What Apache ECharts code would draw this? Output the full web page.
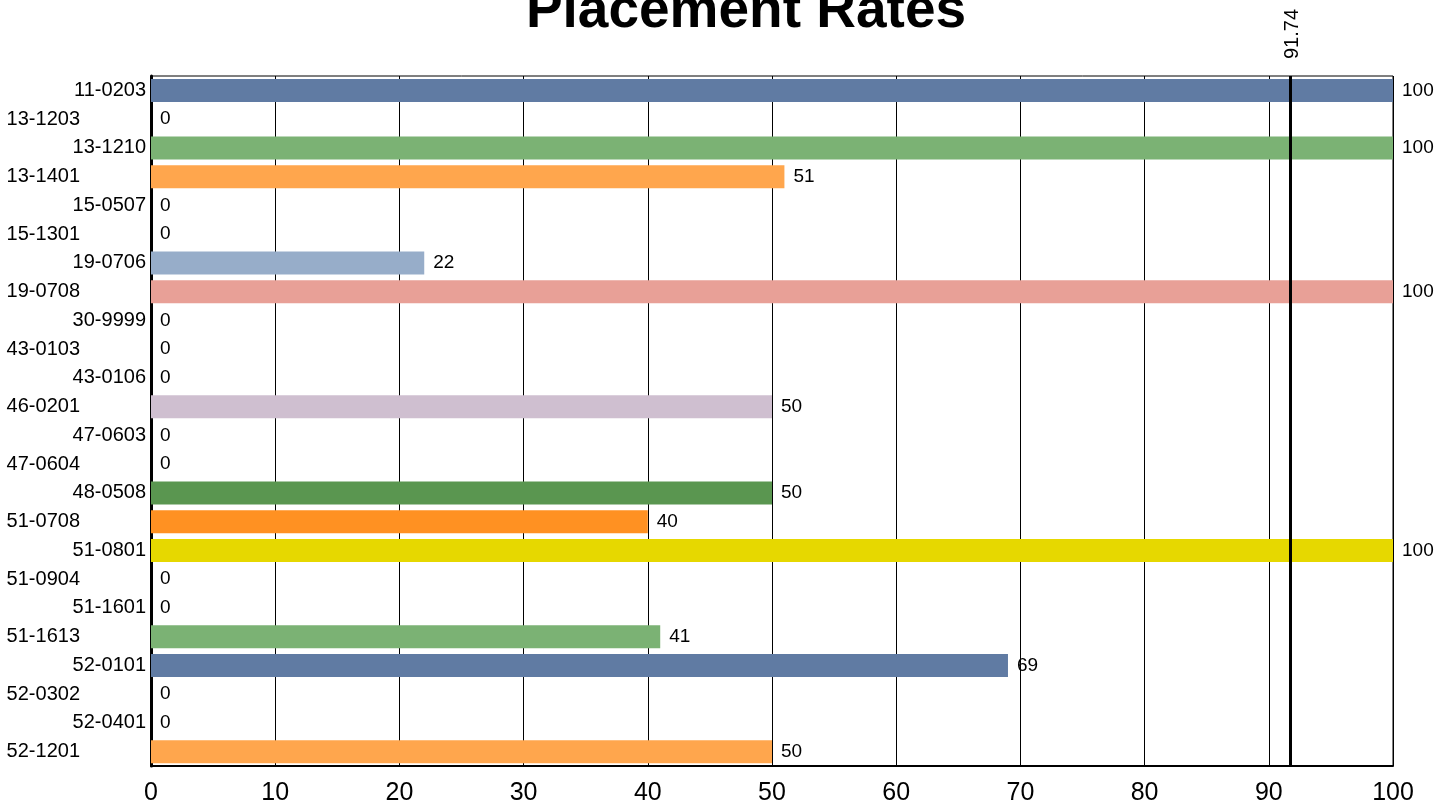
<!DOCTYPE html>
<html><head><meta charset="utf-8">
<script src="https://cdn.jsdelivr.net/npm/echarts@6/dist/echarts.min.js"></script>
<style>html,body{margin:0;padding:0;background:#fff}#c{width:1450px;height:809px}</style>
</head><body><div id="c"></div>
<script>
const categories = ["11-0203","13-1203","13-1210","13-1401","15-0507","15-1301","19-0706","19-0708","30-9999","43-0103","43-0106","46-0201","47-0603","47-0604","48-0508","51-0708","51-0801","51-0904","51-1601","51-1613","52-0101","52-0302","52-0401","52-1201"];
const values = [100,0,100,51,0,0,22,100,0,0,0,50,0,0,50,40,100,0,0,41,69,0,0,50];
const barColors = ["#607ba3","#607ba3","#7bb274","#ffa64d","#607ba3","#607ba3","#97adc9","#e8a097","#607ba3","#607ba3","#607ba3","#cfbfd0","#607ba3","#607ba3","#5a9650","#ff9122","#e6d800","#607ba3","#607ba3","#7bb274","#607ba3","#607ba3","#607ba3","#ffa64d"];
const referenceValue = 91.74;
const titleText = "Placement Rates";

const FF = 'Liberation Sans, Arial, sans-serif';
const chart = echarts.init(document.getElementById('c'));
chart.setOption({
  animation: false,
  textStyle: {fontFamily: FF},
  title: {text: titleText, left: 741, top: -21, textAlign: 'center',
    textStyle: {fontSize: 55, fontWeight: 'bold', color: '#000', fontFamily: FF}},
  grid: {left: 151, right: 57, top: 76, bottom: 43, show: true, borderColor: '#000', borderWidth: 1},
  xAxis: {type: 'value', min: 0, max: 100, interval: 10,
    axisLine: {show: true, lineStyle: {color: '#000', width: 2}},
    axisTick: {show: false},
    axisLabel: {fontSize: 25, color: '#000', margin: 15, fontFamily: FF},
    splitLine: {show: true, lineStyle: {color: '#000', width: 1}}},
  yAxis: {type: 'category', data: categories, inverse: true,
    axisLine: {show: true, lineStyle: {color: '#000', width: 3}},
    axisTick: {show: false},
    axisLabel: {margin: 5, interval: 0,
      formatter: (v, i) => (i % 2 === 0 ? '{a|' + v + '}' : '{b|' + v + '}'),
      rich: {
        a: {fontSize: 20, color: '#000', fontFamily: FF},
        b: {fontSize: 20, color: '#000', padding: [0, 66, 0, 0], fontFamily: FF}
      }}},
  series: [{
    type: 'bar',
    data: values.map((v, i) => ({value: v, itemStyle: {color: barColors[i]}})),
    barWidth: '80%',
    label: {show: true, position: 'right', distance: 9, fontSize: 19, color: '#000', fontFamily: FF},
    markLine: {
      symbol: 'none', silent: true,
      lineStyle: {color: '#000', width: 3, type: 'solid'},
      label: {show: true, position: 'start', rotate: 90, distance: 19, offset: [23, 12], formatter: '{c}', fontSize: 20, color: '#000', fontFamily: FF},
      data: [{xAxis: referenceValue}]
    }
  }]
});
</script></body></html>
